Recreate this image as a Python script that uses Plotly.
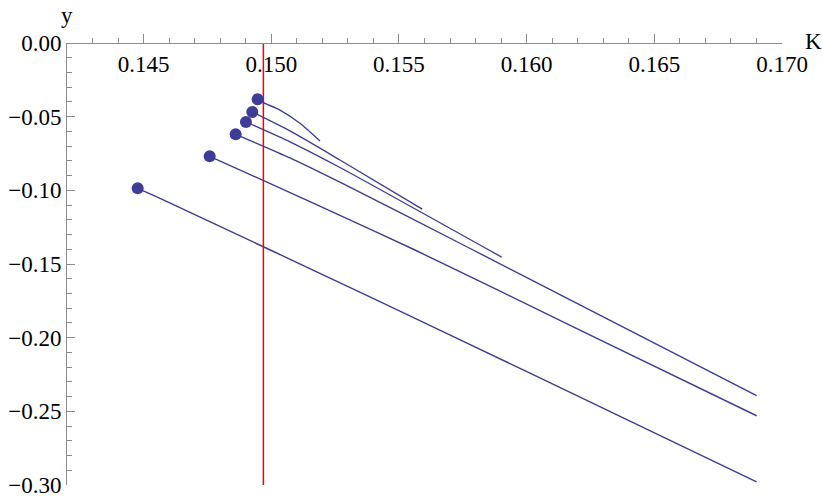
import plotly.graph_objects as go

# ---- data ----
k1 = [0.149467, 0.149686, 0.150340, 0.151123, 0.151906]
y1 = [-0.0382, -0.0405, -0.0455, -0.0545, -0.0665]

k2 = [0.149255, 0.150731, 0.152689, 0.155911]
y2 = [-0.0468, -0.0597, -0.0794, -0.1127]

k3 = [0.149008, 0.150731, 0.152689, 0.159020]
y3 = [-0.0536, -0.0671, -0.0845, -0.1453]

k4 = [0.148605, 0.150731, 0.152689, 0.157713, 0.162086, 0.169005]
y4 = [-0.0620, -0.0780, -0.0945, -0.1388, -0.1778, -0.2394]

k5 = [0.147587, 0.151385, 0.152689, 0.155626, 0.162086, 0.169005]
y5 = [-0.0769, -0.1066, -0.1170, -0.1405, -0.1948, -0.2530]

k6 = [0.144768, 0.145708, 0.154255, 0.159866, 0.169005]
y6 = [-0.0986, -0.1059, -0.1756, -0.2219, -0.2978]

k_red = [0.14969, 0.14969]
y_red = [0.0, -0.30]

x_ticks_start, x_tick_step, x_minor_step = 0.145, 0.005, 0.001
y_tick_step, y_minor_step = 0.05, 0.01

curves_k = [k1, k2, k3, k4, k5, k6]
curves_y = [y1, y2, y3, y4, y5, y6]

blue = "rgb(61,61,153)"
axis_col = "#8c8c8c"
font_family = "Liberation Serif, Times New Roman, serif"
fsize = 23

fig = go.Figure()
for kk, yy in zip(curves_k, curves_y):
    fig.add_trace(go.Scatter(x=kk, y=yy, mode="lines",
                             line=dict(color=blue, width=1.4, shape="spline", smoothing=0.6),
                             showlegend=False, hoverinfo="skip"))

fig.add_trace(go.Scatter(x=k_red, y=y_red, mode="lines",
                         line=dict(color="rgb(255,0,0)", width=1.5),
                         showlegend=False, hoverinfo="skip"))

fig.add_trace(go.Scatter(x=[c[0] for c in curves_k], y=[c[0] for c in curves_y],
                         mode="markers",
                         marker=dict(color=blue, size=12, line=dict(width=0)),
                         showlegend=False, hoverinfo="skip"))

fig.update_layout(
    width=822, height=499,
    margin=dict(l=67, r=40, t=43, b=14, autoexpand=False),
    plot_bgcolor="white", paper_bgcolor="white",
    font=dict(family=font_family, size=fsize, color="black"),
    xaxis=dict(
        range=[0.142, 0.170], anchor="free", position=1, side="bottom",
        automargin=False,
        showline=True, linecolor=axis_col, linewidth=1,
        ticks="inside", ticklen=9, tickcolor=axis_col, tickwidth=1,
        tick0=x_ticks_start, dtick=x_tick_step, tickformat=".3f",
        minor=dict(dtick=x_minor_step, ticks="inside", ticklen=5, tickcolor=axis_col),
        showgrid=False, zeroline=False,
        tickfont=dict(family=font_family, size=fsize, color="black"),
    ),
    yaxis=dict(
        range=[-0.30, 0.0], automargin=False,
        showline=True, linecolor=axis_col, linewidth=1,
        ticks="inside", ticklen=8, tickcolor=axis_col, tickwidth=1,
        dtick=y_tick_step, tickformat=".2f",
        minor=dict(dtick=y_minor_step, ticks="inside", ticklen=5, tickcolor=axis_col),
        showgrid=False, zeroline=False,
        tickfont=dict(family=font_family, size=fsize, color="black"),
    ),
    annotations=[
        dict(text="K", xref="paper", yref="paper", x=1, y=1, xanchor="left",
             yanchor="middle", xshift=21, yshift=2, showarrow=False,
             font=dict(family=font_family, size=fsize, color="black")),
        dict(text="y", xref="paper", yref="paper", x=0, y=1, xanchor="center",
             yanchor="middle", xshift=0, yshift=28, showarrow=False,
             font=dict(family=font_family, size=fsize, color="black")),
    ],
)

# remove the browser's default 8px page margin so the figure fills the window
fig.write_html("out.html",
               config={"displayModeBar": False, "staticPlot": True},
               post_script="document.body.style.margin='0';document.body.style.overflow='hidden';")
